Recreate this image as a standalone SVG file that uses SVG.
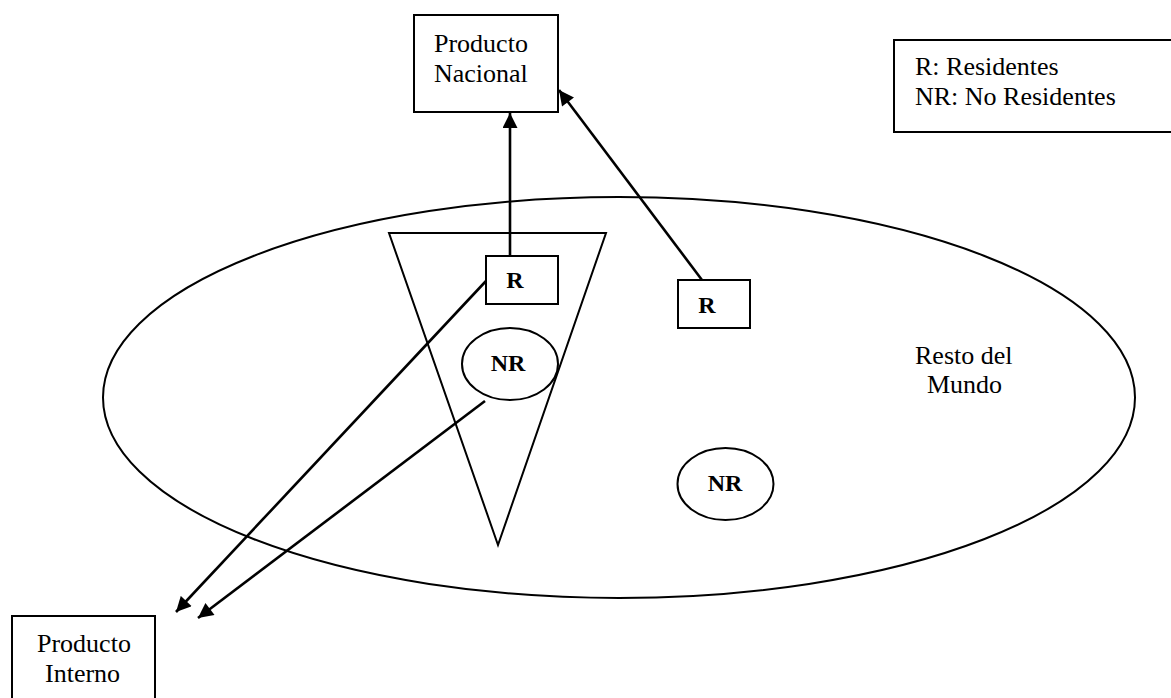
<svg xmlns="http://www.w3.org/2000/svg" width="1171" height="698" viewBox="0 0 1171 698">
  <defs>
    <marker id="arrow" viewBox="0 0 10 10" refX="10" refY="5" markerWidth="16" markerHeight="15" markerUnits="userSpaceOnUse" orient="auto">
      <path d="M0,0 L10,5 L0,10 z" fill="#000"/>
    </marker>
    <style>
      .shape { fill: #fff; stroke: #000; stroke-width: 2; }
      .outline { fill: none; stroke: #000; stroke-width: 2; }
      .label { font-family: "Liberation Serif", "Times New Roman", serif; font-size: 26px; fill: #000; }
      .bold { font-family: "Liberation Serif", "Times New Roman", serif; font-size: 24px; font-weight: bold; fill: #000; text-anchor: middle; }
      .link { fill: none; stroke: #000; stroke-width: 2.6; marker-end: url(#arrow); }
    </style>
  </defs>
  <rect width="1171" height="698" fill="#fff"/>

  <!-- rest of the world -->
  <g id="resto-mundo">
    <ellipse class="outline" cx="619" cy="397.5" rx="516" ry="200.5"/>
    <text class="label" x="915" y="364">Resto del</text>
    <text class="label" x="927" y="393">Mundo</text>
  </g>

  <!-- national territory -->
  <g id="territorio">
    <polygon class="outline" points="389,233 606,233 498,545"/>
  </g>

  <g id="producto-nacional">
    <rect class="shape" x="414" y="15" width="144" height="97"/>
    <text class="label" x="434" y="52">Producto</text>
    <text class="label" x="434" y="82">Nacional</text>
  </g>

  <g id="leyenda">
    <rect class="shape" x="894" y="40" width="290" height="92"/>
    <text class="label" x="915" y="75">R: Residentes</text>
    <text class="label" x="915" y="105">NR: No Residentes</text>
  </g>

  <g id="r-interior">
    <rect class="shape" x="486" y="256" width="72" height="48"/>
    <text class="bold" x="515" y="288">R</text>
  </g>

  <g id="r-exterior">
    <rect class="shape" x="678" y="280" width="72" height="48"/>
    <text class="bold" x="707" y="313">R</text>
  </g>

  <g id="nr-interior">
    <ellipse class="shape" cx="510" cy="364" rx="48" ry="36"/>
    <text class="bold" x="508" y="371">NR</text>
  </g>

  <g id="nr-exterior">
    <ellipse class="shape" cx="725.5" cy="484" rx="48" ry="36"/>
    <text class="bold" x="725" y="491">NR</text>
  </g>

  <g id="producto-interno">
    <rect class="shape" x="12" y="616" width="143" height="100"/>
    <text class="label" x="37" y="652">Producto</text>
    <text class="label" x="45" y="682">Interno</text>
  </g>

  <!-- connectors -->
  <g id="connectors">
    <line class="link" x1="510" y1="256" x2="510" y2="113"/>
    <line class="link" x1="702" y1="280" x2="559" y2="90"/>
    <line class="link" x1="486" y1="281" x2="176" y2="612"/>
    <line class="link" x1="485" y1="401" x2="198" y2="618"/>
  </g>
</svg>
